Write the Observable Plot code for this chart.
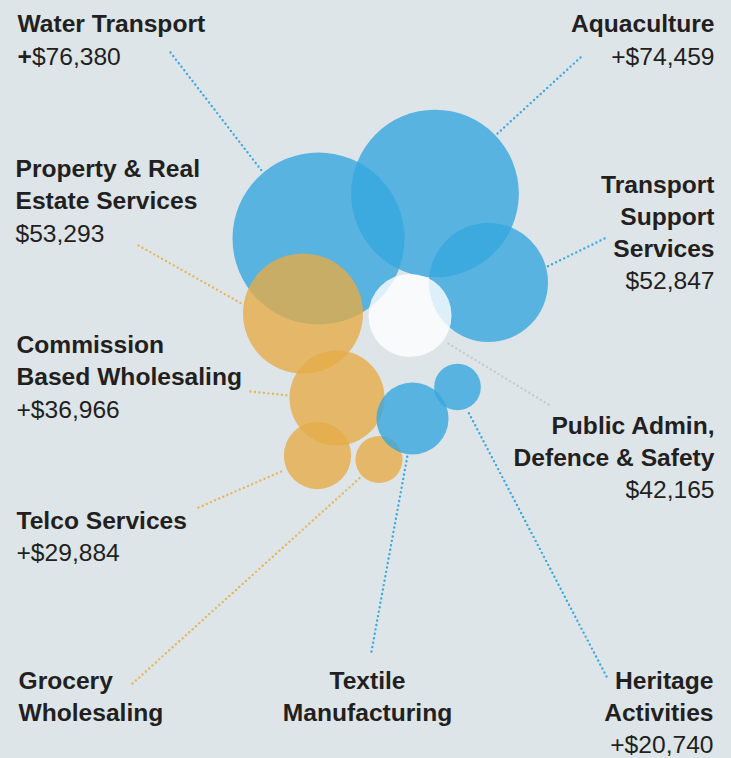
<!DOCTYPE html>
<html>
<head>
<meta charset="utf-8">
<script src="https://cdn.jsdelivr.net/npm/d3@7"></script>
<script src="https://cdn.jsdelivr.net/npm/@observablehq/plot@0.6"></script>
<style>
  html, body { margin: 0; padding: 0; background: #dee5e8; }
  #chart svg { display: block; }
</style>
</head>
<body>
<div id="chart"></div>
<script>
// ---- Data (draw order) ----
const names = [
  "Water Transport",
  "Aquaculture",
  "Transport\nSupport\nServices",
  "Property & Real\nEstate Services",
  "Commission\nBased Wholesaling",
  "Telco Services",
  "Grocery\nWholesaling",
  "Textile\nManufacturing",
  "Heritage\nActivities",
  "Public Admin,\nDefence & Safety"
];
const valueLabels = ["+$76,380", "+$74,459", "$52,847", "$53,293", "+$36,966", "+$29,884", "", "", "+$20,740", "$42,165"];
// bubble magnitudes
const bubbleValues = [76380, 74459, 52847, 53293, 42200, 29884, 20900, 32000, 20740, 36900];
const groups = ["blue", "blue", "blue", "orange", "orange", "orange", "orange", "blue", "blue", "white"];

// ---- Layout (chart units) ----
const bubbleX = [318, 434.5, 488, 302.5, 336.5, 317, 378.5, 412, 457, 409.5];
const bubbleY = [238, 193, 282, 313, 397.5, 455, 459, 418, 386.5, 315];
const labelX = [17, 714, 714, 15, 16, 16, 18, 367, 713, 714];
const labelBaseline = [32, 32, 192.3, 176.7, 352.7, 528.3, 688.3, 688.3, 688.3, 433.3];
const labelAnchor = ["start", "end", "end", "start", "start", "start", "start", "middle", "end", "end"];
const leaderFrom = [[170, 52], [580, 57], [604, 238], [138, 245], [250, 391], [198, 507], [132, 683], [371, 651], [606, 676], [548, 404]];
const leaderTo = [[261, 170], [497, 133], [547, 266], [241, 303], [289, 395], [283, 470], [361, 476], [407, 455], [467, 410], [446, 342]];

const fillColors = {blue: "#36a6de", orange: "#e5ab48", white: "#ffffff"};
const leaderColors = {blue: "#3ba9e0", orange: "#e6b55c", white: "#c4cbce"};

const fontSize = 24.6;
const linePx = 32.2;
const lineH = linePx / fontSize;
const topShift = -0.71 * linePx;

const rows = names.map((n, i) => ({
  name: n,
  value: valueLabels[i],
  size: bubbleValues[i],
  group: groups[i],
  bx: bubbleX[i], by: bubbleY[i],
  lx: labelX[i], lb: labelBaseline[i], anchor: labelAnchor[i],
  x1: leaderFrom[i][0], y1: leaderFrom[i][1],
  x2: leaderTo[i][0], y2: leaderTo[i][1],
  nLines: n.split("\n").length
}));

const textMarks = [];
for (const anchor of ["start", "end", "middle"]) {
  const sub = rows.filter(d => d.anchor === anchor);
  textMarks.push(Plot.text(sub, {
    x: "lx", y: "lb", text: "name", textAnchor: anchor,
    lineAnchor: "top", lineHeight: lineH, dy: topShift,
    fontSize, fontWeight: "bold", fill: "#231f20"
  }));
  textMarks.push(Plot.text(sub.filter(d => d.value), {
    x: "lx", y: d => d.lb + d.nLines * linePx, text: "value", textAnchor: anchor,
    lineAnchor: "top", lineHeight: lineH, dy: topShift,
    fontSize, fontWeight: "normal", fill: "#231f20"
  }));
}

const chart = Plot.plot({
  width: 731,
  height: 758,
  margin: 0,
  x: {domain: [0, 731], range: [0, 731], axis: null},
  y: {domain: [0, 758], range: [0, 758], axis: null},
  r: {type: "linear", domain: [0, 76380], range: [0, 86]},
  color: {type: "identity"},
  style: {background: "#dee5e8", fontFamily: "'Liberation Sans', Arial, sans-serif", overflow: "visible"},
  marks: [
    Plot.link(rows, {
      x1: "x1", y1: "y1", x2: "x2", y2: "y2",
      stroke: d => leaderColors[d.group], strokeWidth: 2.4,
      strokeDasharray: "0 4.5", strokeLinecap: "round"
    }),
    Plot.dot(rows, {
      x: "bx", y: "by", r: "size", sort: null,
      fill: d => fillColors[d.group], fillOpacity: 0.8, stroke: null
    }),
    ...textMarks
  ]
});

// bold "+" on the first value, as in the original
d3.select(chart).selectAll("text").filter(function () { return this.textContent === valueLabels[0]; })
  .each(function () {
    const t = d3.select(this);
    const txt = this.textContent;
    t.text(null);
    t.append("tspan").attr("font-weight", "bold").text(txt[0]);
    t.append("tspan").text(txt.slice(1));
  });

document.getElementById("chart").appendChild(chart);
</script>
</body>
</html>
